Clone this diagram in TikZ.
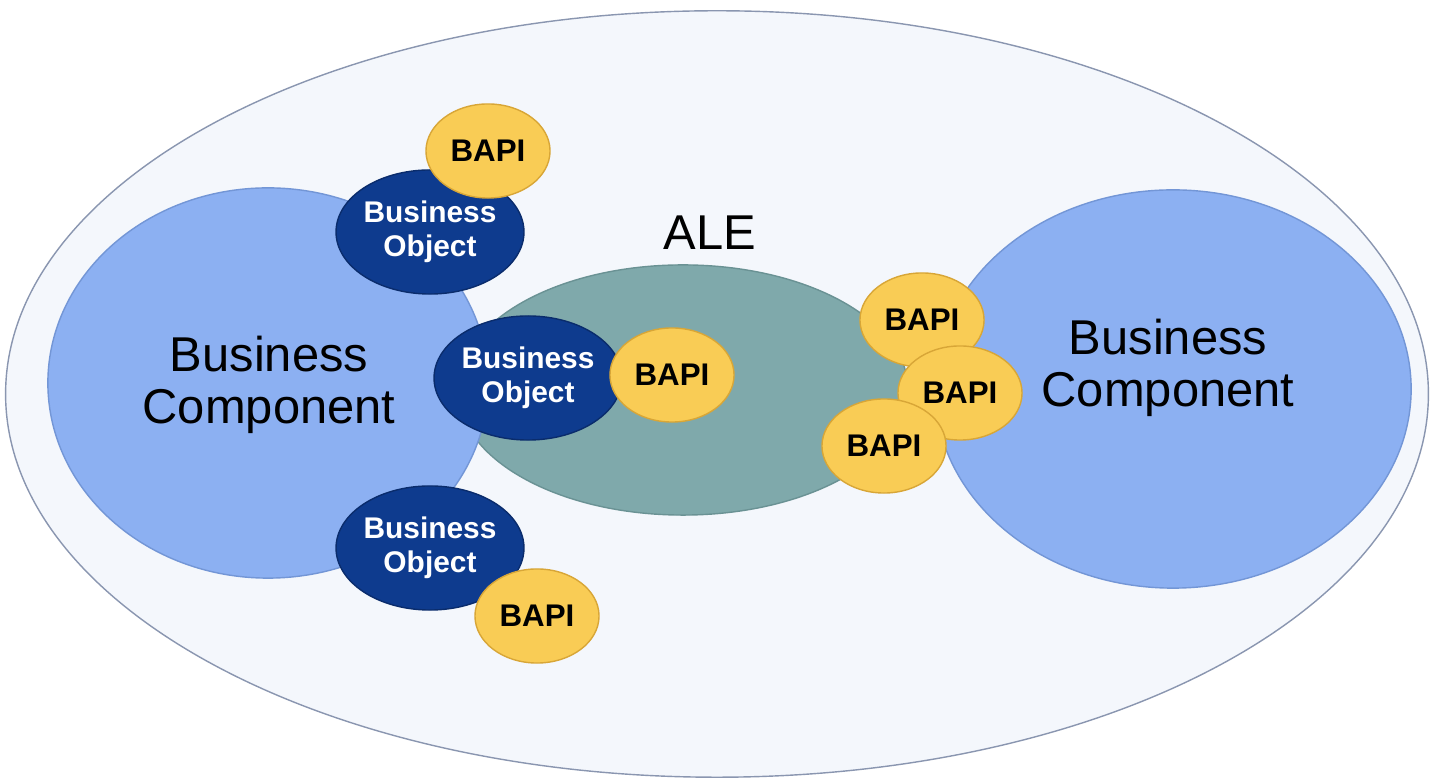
\documentclass[tikz,border=0pt]{standalone}
\usepackage{fontspec}
\setmainfont{Liberation Sans}
\usetikzlibrary{shapes.geometric}
\definecolor{shellfill}{HTML}{F4F7FC}
\definecolor{shellline}{HTML}{8A96B0}
\definecolor{compfill}{HTML}{8CB0F2}
\definecolor{compline}{HTML}{7396D6}
\definecolor{alefill}{HTML}{7FA9AB}
\definecolor{aleline}{HTML}{6A9294}
\definecolor{bobjfill}{HTML}{0E3B8E}
\definecolor{bobjline}{HTML}{0A2C6C}
\definecolor{bapifill}{HTML}{F9CC55}
\definecolor{bapiline}{HTML}{D8A637}
\tikzset{
    shell/.style={ellipse, draw=shellline, fill=shellfill, thin}, % the outer system
    comp/.style={ellipse, draw=compline, fill=compfill, thin, inner sep=0pt},
    bobj/.style={ellipse, draw=bobjline, fill=bobjfill, thin, text=white, inner sep=0pt,
        align=center, font=\fontsize{8.5}{9.7}\selectfont\bfseries,
        minimum width=1.84cm, minimum height=1.24cm},
    bapi/.style={ellipse, draw=bapiline, fill=bapifill, thin, inner sep=0pt,
        font=\fontsize{8.9}{10}\selectfont\bfseries,
        minimum width=1.24cm, minimum height=0.94cm},
    bigtext/.style={align=center, font=\fontsize{13.9}{14.8}\selectfont},
}

\begin{document}
\begin{tikzpicture}[x=0.01cm, y=-0.01cm]
    \useasboundingbox (0,0) rectangle (1433,780);
    % frame and the ALE bus
    \node[shell, minimum width=14.22cm, minimum height=7.66cm] (system) at (717,394) {};
    \node[ellipse, draw=aleline, fill=alefill, thin, minimum width=4.5cm, minimum height=2.5cm] (ale) at (683,390) {};
    \node[bigtext] (alelabel) at (710,233) {ALE};

    % the two components
    \node[comp, minimum width=4.4cm, minimum height=3.9cm] (leftcomp) at (268,383) {};
    \node[comp, minimum width=4.76cm, minimum height=3.98cm] (rightcomp) at (1173,389) {};
    \node[bigtext] (lefttext) at (269,385) {Business\\Component};
    \node[bigtext] (righttext) at (1168,368) {Business\\Component};

    % objects with their interfaces
    \node[bobj] (obj1) at (430,232) {Business\\Object};
    \node[bapi] (bapi1) at (488,151) {BAPI};
    \node[bobj] (obj2) at (528,378) {Business\\Object};
    \node[bapi] (bapi2) at (672,375) {BAPI};
    \node[bobj] (obj3) at (430,548) {Business\\Object};
    \node[bapi] (bapi3) at (537,616) {BAPI};

    \node[bapi] (bapi4) at (922,320) {BAPI};
    \node[bapi] (bapi5) at (960,393) {BAPI};
    \node[bapi] (bapi6) at (884,446) {BAPI};
\end{tikzpicture}
\end{document}
